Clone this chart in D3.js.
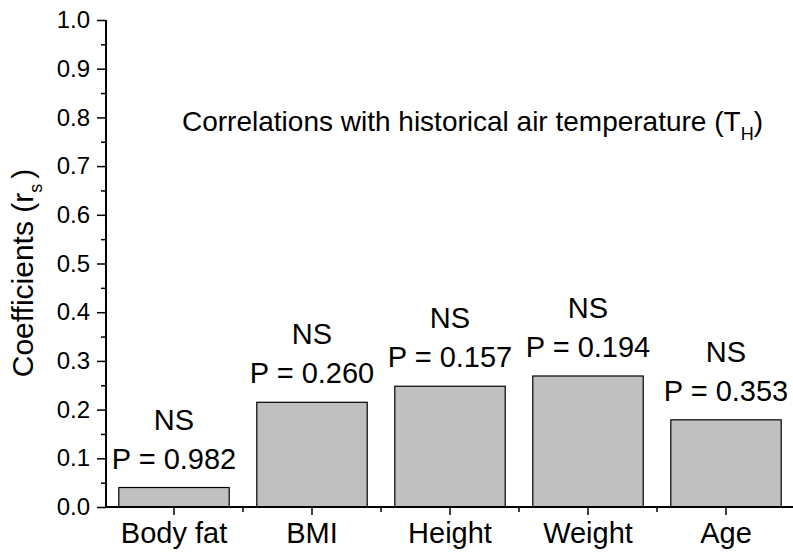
<!DOCTYPE html>
<html lang="en">
<head>
    <meta charset="utf-8">
    <title>Correlations with historical air temperature</title>
    <script src="https://cdn.jsdelivr.net/npm/d3@7/dist/d3.min.js"></script>
    <style>
        body { margin: 0; background: #fff; }
        text { font-family: "Liberation Sans", Arial, sans-serif; fill: #000; }
        .ytick text { font-size: 24px; }
    </style>
</head>
<body>
</body>
</html>
<script>
    // categories and values
    var categories = ["Body fat", "BMI", "Height", "Weight", "Age"];
    var coefficients = [0.040, 0.215, 0.248, 0.269, 0.179];
    var pValues = ["0.982", "0.260", "0.157", "0.194", "0.353"];
    var significance = ["NS", "NS", "NS", "NS", "NS"];
    var yTicks = [0.0, 0.1, 0.2, 0.3, 0.4, 0.5, 0.6, 0.7, 0.8, 0.9, 1.0];
    var yMinorTicks = [0.05, 0.15, 0.25, 0.35, 0.45, 0.55, 0.65, 0.75, 0.85, 0.95];

    var width = 793;
    var height = 556;
    var svg = d3.select("body")
            .append("svg")
            .attr("width", width)
            .attr("height", height);

    // scales
    var x = d3.scaleBand()
            .domain(categories)
            .range([105, 795])
            .paddingInner(0.2)
            .paddingOuter(0.1);
    var y = d3.scaleLinear()
            .domain([0, 1])
            .range([507, 20]);

    // bars
    svg.append("g")
            .selectAll("rect")
            .data(categories)
            .enter()
            .append("rect")
            .attr("x", function (d) { return x(d); })
            .attr("width", x.bandwidth())
            .attr("y", function (d, i) { return y(coefficients[i]); })
            .attr("height", function (d, i) { return y(0) - y(coefficients[i]); })
            .attr("fill", "#c0c0c0")
            .attr("stroke", "#000")
            .attr("stroke-width", 1.2);

    // y axis
    var yAxis = svg.append("g")
            .attr("class", "ytick")
            .attr("transform", "translate(106,0)")
            .call(d3.axisLeft(y).tickValues(yTicks).tickSize(9).tickPadding(7)
                    .tickFormat(d3.format(".1f")));
    svg.append("g")
            .attr("transform", "translate(106,0)")
            .call(d3.axisLeft(y).tickValues(yMinorTicks).tickSize(5).tickFormat(""))
            .call(function (g) { g.selectAll("line").attr("stroke-width", 1.5); })
            .select(".domain").remove();

    // x axis: major ticks at centres, minor at band edges
    var xAxis = svg.append("g")
            .attr("transform", "translate(0,507)")
            .call(d3.axisBottom(x).tickSize(8).tickPadding(7).tickSizeOuter(0));
    var edges = categories.slice(1).map(function (d) { return x(d) - x.step() * x.paddingInner() / 2; });
    svg.append("g")
            .selectAll("line")
            .data(edges)
            .enter()
            .append("line")
            .attr("x1", function (d) { return d; })
            .attr("x2", function (d) { return d; })
            .attr("y1", 507)
            .attr("y2", 512)
            .attr("stroke", "#000")
            .attr("stroke-width", 1.5);

    [yAxis, xAxis].forEach(function (g) {
        g.attr("font-size", null).attr("font-family", null);
        g.selectAll("line").attr("stroke-width", 1.5);
        g.select(".domain").attr("stroke-width", 2);
    });
    yAxis.selectAll("text").attr("font-size", 24);
    xAxis.selectAll("text").style("font-size", "29px");
    xAxis.select(".domain").attr("d", "M106,0H793");
    yAxis.select(".domain").attr("d", "M0,507V20");

    // annotations above bars
    var notes = svg.append("g")
            .selectAll("g")
            .data(categories)
            .enter()
            .append("g");
    notes.append("text")
            .attr("x", function (d) { return x(d) + x.bandwidth() / 2; })
            .attr("y", function (d, i) { return y(coefficients[i]) - 19; })
            .attr("text-anchor", "middle")
            .style("font-size", "29px")
            .text(function (d, i) { return "P = " + pValues[i]; });
    notes.append("text")
            .attr("x", function (d) { return x(d) + x.bandwidth() / 2; })
            .attr("y", function (d, i) { return y(coefficients[i]) - 58; })
            .attr("text-anchor", "middle")
            .style("font-size", "29px")
            .text(function (d, i) { return significance[i]; });

    // title inside plot
    var title = svg.append("text")
            .attr("x", 182)
            .attr("y", 131)
            .style("font-size", "28px")
            .text("Correlations with historical air temperature (T");
    title.append("tspan").attr("dy", 9).style("font-size", "18px").text("H");
    title.append("tspan").attr("dy", -9).text(")");

    // y axis label
    var ylab = svg.append("text")
            .attr("transform", "translate(33,273) rotate(-90)")
            .attr("text-anchor", "middle")
            .style("font-size", "30px")
            .text("Coefficients (r");
    ylab.append("tspan").attr("dy", 9).style("font-size", "18px").text("s");
    ylab.append("tspan").attr("dy", -9).attr("dx", 5).text(")");
</script>
